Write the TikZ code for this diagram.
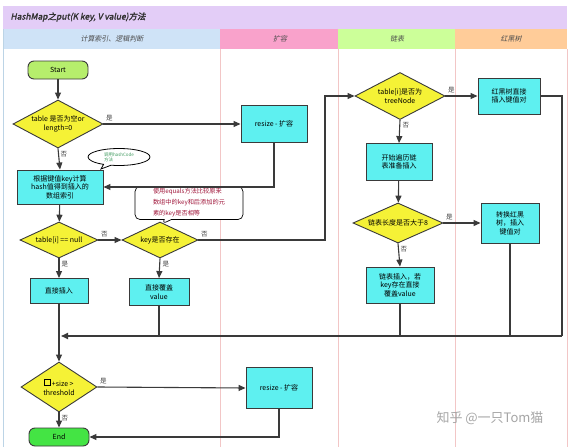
\documentclass[tikz,border=0pt]{standalone}
\usepackage{fontspec}
\setmainfont{Noto Sans CJK SC}
\newfontfamily\titlefont{Noto Sans CJK SC}[FakeSlant=0.2,FakeBold=2]
\newfontfamily\slantfont{Noto Sans CJK SC}[FakeSlant=0.2]
\usetikzlibrary{shapes.geometric,shapes.callouts,arrows.meta}

\definecolor{boxfill}{HTML}{5EF0F0}
\definecolor{decfill}{HTML}{F5F236}
\definecolor{edge}{HTML}{3A3A3A}
\definecolor{startfill}{HTML}{B6EE6C}
\definecolor{endfill}{HTML}{44E444}
\definecolor{titlebg}{HTML}{E3CDF7}
\definecolor{hdrblue}{HTML}{CFE3F7}
\definecolor{hdrpink}{HTML}{F9A2CB}
\definecolor{hdrgreen}{HTML}{CCFF99}
\definecolor{hdrorange}{HTML}{FFCC99}
\definecolor{laneline}{HTML}{F2C6C6}
\definecolor{leftline}{HTML}{BCD4E6}
\definecolor{notegreen}{HTML}{3E9A5E}
\definecolor{notered}{HTML}{A0163A}

\newcommand{\tinysquare}{{\setlength{\fboxsep}{0pt}\setlength{\fboxrule}{0.7pt}%
  \raisebox{2pt}{\fbox{\rule{0pt}{5pt}\rule{5pt}{0pt}}}}}

\tikzset{
  txt/.style={font=\fontsize{7}{8.6}\selectfont},
  proc/.style={txt, rectangle, draw=edge, line width=0.9pt, fill=boxfill,
    align=center, inner sep=1pt},
  dec/.style={txt, diamond, aspect=2, draw=edge, line width=0.9pt, fill=decfill,
    align=center, inner sep=0pt},
  term/.style={txt, rectangle, rounded corners=6pt, draw=edge, line width=0.9pt,
    minimum width=60pt, minimum height=18pt},
  flow/.style={draw=edge, line width=1.1pt, -{Triangle[length=7pt,width=6pt]}},
  wire/.style={draw=edge, line width=1.1pt},
  lbl/.style={font=\fontsize{6.5}{7}\selectfont, text=black!75, inner sep=2pt},
  hdr/.style={font=\slantfont\fontsize{7}{8}\selectfont, text=black!70},
}

\begin{document}
\begin{tikzpicture}[x=1pt,y=-1pt]
\useasboundingbox (0,0) rectangle (574,447);
\fill[white] (0,0) rectangle (574,447);

% title band and lane headers
\fill[titlebg] (3,6) rectangle (567,29);
\node[anchor=west, font=\titlefont\fontsize{8.5}{9}\selectfont, text=black!80] (title) at (7,17)
  {HashMap之put(K key, V value)方法};
\fill[hdrblue] (3,29) rectangle (220,49);
\fill[hdrpink] (220,29) rectangle (338,49);
\fill[hdrgreen] (338,29) rectangle (455,49);
\fill[hdrorange] (455,29) rectangle (567,49);
\node[hdr] (h1) at (112,39) {计算索引、逻辑判断};
\node[hdr] (h2) at (280,39) {扩容};
\node[hdr] (h3) at (397,39) {链表};
\node[hdr] (h4) at (511,39) {红黑树};

% lane separators
\draw[laneline, line width=0.8pt] (220,49) -- (220,447);
\draw[laneline, line width=0.8pt] (338,49) -- (338,447);
\draw[laneline, line width=0.8pt] (455,49) -- (455,447);
\draw[laneline, line width=0.8pt] (567,49) -- (567,447);
\draw[leftline, line width=1pt] (3,29) -- (3,447);

% nodes
\node[term, fill=startfill] (start) at (58,70) {Start};
\node[dec, minimum width=90pt, minimum height=48pt] (d1) at (58,124)
  {table 是否为空or\\length=0};
\node[proc, minimum width=66pt, minimum height=37pt] (r1) at (274,124) {resize - 扩容};
\node[proc, minimum width=86pt, minimum height=34pt] (hash) at (60,187)
  {根据键值key计算\\hash值得到插入的\\数组索引};
\node[dec, minimum width=78pt, minimum height=36pt] (d2) at (59,240) {table[i] == null};
\node[dec, minimum width=76pt, minimum height=36pt] (d3) at (160,240) {key是否存在};
\node[proc, minimum width=58pt, minimum height=25pt] (ins) at (59,291) {直接插入};
\node[proc, minimum width=60pt, minimum height=27pt] (cov) at (159,292) {直接覆盖\\value};

\node[dec, minimum width=90pt, minimum height=47pt] (d4) at (400,96)
  {table[i]是否为\\treeNode};
\node[proc, minimum width=62pt, minimum height=36pt] (rbt) at (509,96)
  {红黑树直接\\插入键值对};
\node[proc, minimum width=66pt, minimum height=37pt] (trav) at (399,162)
  {开始遍历链\\表准备插入};
\node[dec, minimum width=90pt, minimum height=40pt] (d5) at (398,223) {链表长度是否大于8};
\node[proc, minimum width=58pt, minimum height=40pt] (conv) at (510,223)
  {转换红黑\\树，插入\\键值对};
\node[proc, minimum width=68pt, minimum height=36pt] (lins) at (400,285)
  {链表插入，若\\key存在直接\\覆盖value};

\node[dec, minimum width=76pt, minimum height=50pt] (d6) at (59,387)
  {\tinysquare\,+size >\\threshold};
\node[proc, minimum width=66pt, minimum height=41pt] (r2) at (279,388) {resize - 扩容};
\node[term, fill=endfill] (end) at (59,437) {End};

% notes
\node[ellipse callout, draw=black, line width=0.8pt, fill=white,
  minimum width=62pt, minimum height=17pt, inner sep=0pt, align=left,
  font=\fontsize{4.5}{5}\selectfont, text=notegreen,
  callout absolute pointer={(101,169)}] (hcnote) at (119,157)
  {调用hashCode\\方法};
\node[rectangle callout, rounded corners=5pt, draw=black, line width=0.7pt, fill=white,
  minimum width=108pt, minimum height=33pt, inner sep=2pt, align=left,
  font=\fontsize{6.2}{11}\selectfont, text=notered,
  callout absolute pointer={(162,224)}] (eqnote) at (189,203)
  {使用equals方法比较原来\\数组中的key和后添加的元\\素的key是否相等};

% connectors
\coordinate (up) at (325,96);
\coordinate (mR) at (562,336);
\coordinate (mL) at (61,336);

\draw[flow] (start) -- (d1);
\draw[flow] (d1.east) -- node[lbl, pos=0, anchor=south west] {是} (r1.west);
\draw[flow] (d1.south) -- node[lbl, pos=0, anchor=north west] {否} (hash.north);
\draw[flow] (r1.south) |- (hash.east);
\draw[flow] (hash) -- (d2);
\draw[flow] (d2.east) -- node[lbl, pos=0, anchor=south west] {否} (d3.west);
\draw[flow] (d2.south) -- node[lbl, pos=0, anchor=north west] {是} (ins.north);
\draw[flow] (d3.south) -- node[lbl, pos=0, anchor=north west] {是} (cov.north);
\draw[flow] (d3.east) -| node[lbl, pos=0, anchor=south west] {否} (up) -- (d4.west);

\draw[flow] (d4.east) -- node[lbl, pos=0, anchor=south west] {是} (rbt.west);
\draw[flow] (d4.south) -- node[lbl, pos=0, anchor=north west] {否} (trav.north);
\draw[flow] (trav) -- (d5);
\draw[flow] (d5.east) -- node[lbl, pos=0, anchor=south west] {是} (conv.west);
\draw[flow] (d5.south) -- node[lbl, pos=0, anchor=north west] {否} (lins.north);

% merge back to the size check
\draw[wire] (rbt.east) -| (mR);
\draw[wire] (conv.south) -- (conv.south |- mR);
\draw[wire] (lins.south) -- (lins.south |- mR);
\draw[wire] (cov.south) -- (cov.south |- mR);
\draw[flow, line width=1.6pt] (mR) -- (mL);
\draw[flow] (ins) -- (d6);

\draw[flow] (d6.east) -- node[lbl, pos=0, anchor=south west] {是} (r2.west);
\draw[flow] (d6.south) -- node[lbl, pos=0, anchor=north west] {否} (end.north);
\draw[flow] (r2.south) |- (end.east);

% watermark
\node[font=\fontsize{13}{14}\selectfont, text=black!35] (mark) at (490,418) {知乎 @一只Tom猫};
\end{tikzpicture}
\end{document}
